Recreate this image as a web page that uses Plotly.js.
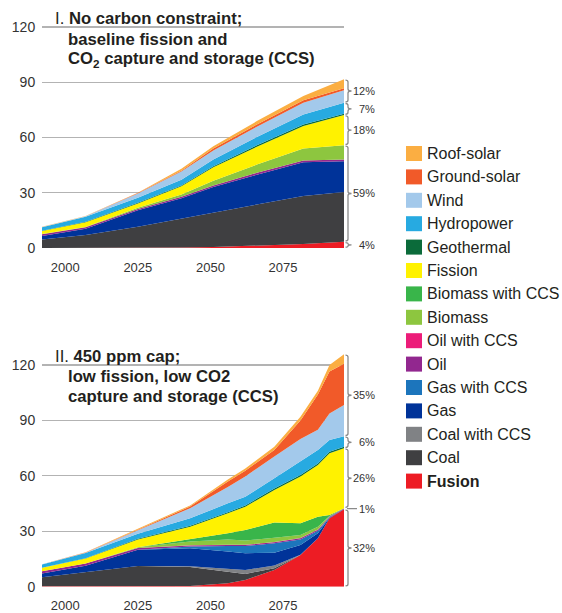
<!DOCTYPE html>
<html><head><meta charset="utf-8">
<script src="https://cdn.plot.ly/plotly-3.0.1.min.js"></script>
<style>html,body{margin:0;padding:0;background:#fff}</style>
</head><body>
<div id="chart" style="width:562px;height:613px"></div>
<script>
// ---------- DATA ----------
// stacking order, bottom to top
const seriesNames = ['Fusion','Coal','Coal with CCS','Gas','Gas with CCS','Oil','Oil with CCS','Biomass','Biomass with CCS','Fission','Geothermal','Hydropower','Wind','Ground-solar','Roof-solar'];
const seriesColors = ['#ED1C24','#3F3F41','#808285','#003399','#1C75BC','#92278F','#EC1C79','#8DC63F','#39B54A','#FFF200','#0B6B3A','#27AAE1','#A3C9EB','#F15A29','#FBAE42'];

// Panel I: no carbon constraint (energy per layer)
const years1   = [1992, 2007, 2025, 2040, 2051, 2066, 2082, 2096];
const fusion1  = [0, 0, 0.1, 0.3, 0.5, 1.2, 2.2, 3.4];
const coal1    = [4.6, 7.0, 11.5, 15.7, 18.5, 22.4, 26.1, 27.0];
const coalCcs1 = [0, 0, 0, 0, 0, 0, 0, 0];
const gas1     = [1.9, 3.4, 8.9, 11.0, 14.1, 16.2, 18.2, 16.7];
const gasCcs1  = [0, 0, 0, 0, 0, 0, 0, 0];
const oil1     = [1.0, 0.9, 0.7, 0.8, 0.9, 1.0, 1.0, 0.9];
const oilCcs1  = [0, 0, 0, 0, 0, 0, 0, 0];
const biomass1 = [0.1, 0.1, 0.6, 1.2, 2.5, 4.5, 6.5, 7.8];
const bioCcs1  = [0, 0, 0, 0, 0, 0, 0, 0];
const fission1 = [1.6, 2.6, 2.4, 4.5, 7.3, 9.7, 12.2, 16.4];
const geo1     = [0.1, 0.2, 0.4, 0.5, 0.6, 0.8, 0.9, 0.7];
const hydro1   = [2.0, 2.8, 2.7, 3.0, 3.6, 4.5, 5.4, 6.0];
const wind1    = [0.1, 0.2, 2.3, 4.5, 4.9, 5.6, 6.4, 6.7];
const ground1  = [0, 0, 0.2, 0.5, 1.1, 1.2, 1.3, 1.2];
const roof1    = [0.1, 0.2, 0.2, 1.0, 1.3, 1.8, 2.3, 4.8];

// Panel II: 450 ppm cap
const years2   = [1992, 2007, 2025, 2043, 2056, 2062, 2072, 2081, 2087, 2091, 2096];
const fusion2  = [0.3, 0.3, 0.3, 0.4, 1.8, 3.6, 9.0, 17.1, 26.2, 37.0, 41.9];
const coal2    = [4.8, 7.6, 10.9, 10.2, 6.3, 3.3, 1.0, 0, 0, 0, 0];
const coalCcs2 = [0, 0, 0, 0.4, 1.8, 2.1, 1.5, 0.2, 0, 0, 0];
const gas2     = [2.1, 3.5, 8.8, 9.8, 9.1, 9.1, 6.9, 5.3, 2.7, 0.3, 0.1];
const gasCcs2  = [0, 0, 0, 0.9, 3.0, 3.9, 5.1, 3.0, 1.4, 0.3, 0];
const oil2     = [1.1, 1.1, 1.0, 0.6, 0.6, 0.6, 0.6, 0.6, 0.5, 0.4, 0.3];
const oilCcs2  = [0, 0, 0, 0.1, 0.1, 0.1, 0.1, 0.1, 0.1, 0, 0];
const biomass2 = [0.1, 0.1, 0.3, 2.0, 2.9, 2.3, 2.3, 1.7, 1.6, 0.3, 0.1];
const bioCcs2  = [0, 0, 0.1, 1.2, 3.3, 5.7, 8.2, 6.3, 5.4, 0.5, 0.1];
const fission2 = [1.8, 2.6, 4.1, 6.9, 10.8, 12.6, 17.7, 25.3, 28.0, 33.4, 32.4];
const geo2     = [0.1, 0.2, 0.5, 0.5, 0.6, 0.7, 0.7, 0.8, 0.8, 0.8, 0.9];
const hydro2   = [1.7, 2.8, 2.7, 4.0, 4.8, 4.7, 5.6, 7.3, 7.3, 6.4, 5.6];
const wind2    = [0.1, 0.2, 1.8, 5.5, 8.9, 11.0, 11.7, 12.3, 11.0, 14.4, 17.0];
const ground2  = [0, 0.1, 0.3, 0.9, 3.0, 3.1, 3.6, 10.0, 19.0, 22.7, 22.2];
const roof2    = [0.1, 0.2, 0.6, 0.6, 1.0, 1.2, 1.8, 2.0, 2.0, 3.5, 5.2];

// Share brackets at 2100 (layer index ranges) and their labels
const bracketGroups  = [[0,0],[1,8],[9,9],[10,11],[12,14]];
const bracketLabels1 = ['4%','59%','18%','7%','12%'];
const bracketLabels2 = ['32%','1%','26%','6%','35%'];

const xTicks = [2000, 2025, 2050, 2075];
const yTicks = [0, 30, 60, 90, 120];

// ---------- BUILD ----------
const panel1 = [fusion1,coal1,coalCcs1,gas1,gasCcs1,oil1,oilCcs1,biomass1,bioCcs1,fission1,geo1,hydro1,wind1,ground1,roof1];
const panel2 = [fusion2,coal2,coalCcs2,gas2,gasCcs2,oil2,oilCcs2,biomass2,bioCcs2,fission2,geo2,hydro2,wind2,ground2,roof2];

const W = 562, H = 613;
const plotL = 42, plotR = 344;
const top1 = 25, bot1 = 248, top2 = 350, bot2 = 586.7;
const range1 = [0, 121.1], range2 = [0, 128.1];
const fontMain = 'Liberation Sans, Arial, sans-serif';
const px = v => v / W;
const py = v => 1 - v / H;

const traces = [];
function addPanel(years, data, xa, ya, sg) {
  data.forEach((vals, i) => {
    traces.push({
      type: 'scatter', mode: 'lines', x: years, y: vals,
      xaxis: xa, yaxis: ya, stackgroup: sg,
      line: {width: 0, color: seriesColors[i]}, fillcolor: seriesColors[i],
      name: seriesNames[i], showlegend: false, hoverinfo: 'skip'
    });
  });
}
addPanel(years1, panel1, 'x', 'y', 'p1');
addPanel(years2, panel2, 'x2', 'y2', 'p2');

const shapes = [];
const annotations = [];

// brackets
function addBrackets(data, labels, yref, unitsPerPx) {
  const last = data[0].length - 1;
  const cum = [];
  let s = 0;
  data.forEach(v => { s += v[last]; cum.push(s); });
  const X0 = 348;
  bracketGroups.forEach((g, k) => {
    const lo = g[0] === 0 ? 0 : cum[g[0] - 1];
    const hi = cum[g[1]];
    const mid = (lo + hi) / 2;
    const spanPx = (hi - lo) / unitsPerPx;
    let path;
    if (spanPx < 4) {
      path = `M ${px(X0 - 1)} ${mid} L ${px(X0 + 9)} ${mid}`;
    } else {
      const gap = 0.8 * unitsPerPx;
      const r = Math.min(2, (spanPx - 1.6) / 4) * unitsPerPx;
      const a = lo + gap, b = hi - gap;
      path = `M ${px(X0 - 2.5)} ${a} Q ${px(X0)} ${a} ${px(X0)} ${a + r} L ${px(X0)} ${mid - r} Q ${px(X0)} ${mid} ${px(X0 + 3.5)} ${mid} Q ${px(X0)} ${mid} ${px(X0)} ${mid + r} L ${px(X0)} ${b - r} Q ${px(X0)} ${b} ${px(X0 - 2.5)} ${b}`;
    }
    shapes.push({type: 'path', xref: 'paper', yref: yref, path: path, line: {color: '#8a8a8a', width: 1.3}});
    annotations.push({xref: 'paper', yref: yref, x: px(376), y: mid, xanchor: 'right', yanchor: 'middle',
      text: labels[k], showarrow: false, borderpad: 0, font: {family: fontMain, size: 11, color: '#333'}});
  });
}
addBrackets(panel1, bracketLabels1, 'y', (range1[1] - range1[0]) / (bot1 - top1));
addBrackets(panel2, bracketLabels2, 'y2', (range2[1] - range2[0]) / (bot2 - top2));

// titles
const titleFont = {family: fontMain, size: 16.7, color: '#231f20'};
function addTitle(text, xPix, yPix) {
  annotations.push({xref: 'paper', yref: 'paper', x: px(xPix), y: py(yPix), xanchor: 'left', yanchor: 'middle',
    text: text, showarrow: false, font: titleFont, borderpad: 0});
}
addTitle('I. <b>No carbon constraint;</b>', 54, 18.5);
addTitle('<b>baseline fission and</b>', 67, 39.5);
addTitle('<b>CO<sub>2</sub> capture and storage (CCS)</b>', 67, 59.5);
addTitle('II. <b>450 ppm cap;</b>', 54, 356);
addTitle('<b>low fission, low CO2</b>', 67, 376);
addTitle('<b>capture and storage (CCS)</b>', 67, 396);

// legend (top to bottom = reverse stacking order)
const legY0 = 153.5, legStep = 23.4;
for (let j = 0; j < seriesNames.length; j++) {
  const i = seriesNames.length - 1 - j;
  const cy = legY0 + j * legStep;
  shapes.push({type: 'rect', xref: 'paper', yref: 'paper', x0: px(406), x1: px(422), y0: py(cy + 7.5), y1: py(cy - 7.5),
    fillcolor: seriesColors[i], line: {width: 0}});
  annotations.push({xref: 'paper', yref: 'paper', x: px(426), y: py(cy), xanchor: 'left', yanchor: 'middle',
    text: seriesNames[i] === 'Fusion' ? '<b>Fusion</b>' : seriesNames[i], showarrow: false, borderpad: 0,
    font: {family: fontMain, size: 16, color: '#231f20'}});
}

const xCommon = {
  domain: [px(plotL), px(plotR)], range: [years1[0], years1[years1.length - 1]],
  tickvals: xTicks, showgrid: false, zeroline: false, showline: false,
  ticks: 'outside', ticklen: 7, tickcolor: 'rgba(0,0,0,0)',
  tickfont: {family: fontMain, size: 13, color: '#333'}, fixedrange: true
};
const yCommon = {
  tickvals: yTicks, showgrid: true, gridcolor: '#b3b3b3', gridwidth: 1.3, zeroline: false, showline: false,
  ticks: 'outside', ticklen: 3, tickcolor: 'rgba(0,0,0,0)',
  tickfont: {family: fontMain, size: 14, color: '#333'}, fixedrange: true
};

const layout = {
  width: W, height: H, margin: {l: 0, r: 0, t: 0, b: 0},
  paper_bgcolor: '#fff', plot_bgcolor: '#fff', showlegend: false,
  xaxis: Object.assign({}, xCommon, {anchor: 'y'}),
  xaxis2: Object.assign({}, xCommon, {anchor: 'y2'}),
  yaxis: Object.assign({}, yCommon, {domain: [py(bot1), py(top1)], range: range1, anchor: 'x'}),
  yaxis2: Object.assign({}, yCommon, {domain: [py(bot2), py(top2)], range: range2, anchor: 'x2'}),
  shapes: shapes, annotations: annotations
};

Plotly.newPlot('chart', traces, layout, {staticPlot: true});
</script>
</body></html>
